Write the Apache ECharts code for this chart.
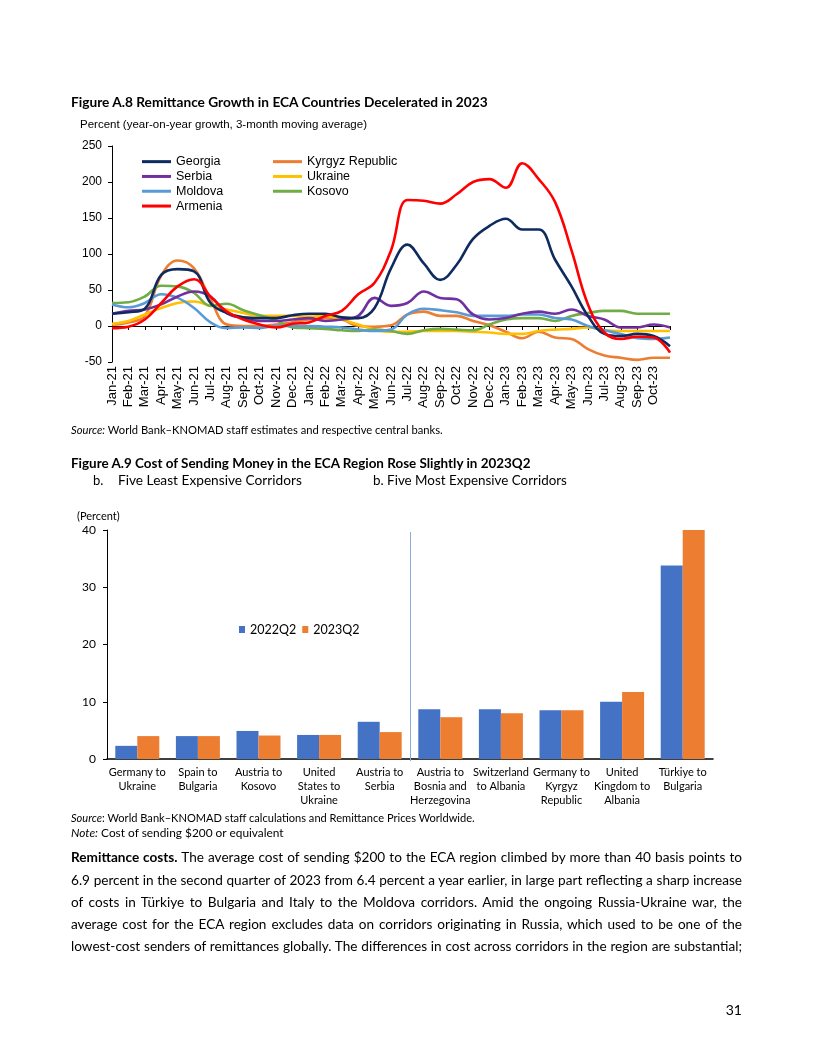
<!DOCTYPE html>
<html><head><meta charset="utf-8">
<script src="https://cdn.jsdelivr.net/npm/echarts@6/dist/echarts.min.js"></script>
<style>
html,body{margin:0;padding:0;background:#fff;}
#page{position:relative;width:816px;height:1056px;overflow:hidden;background:#fff;}
#chart{position:absolute;left:0;top:0;width:816px;height:1056px;}
.t{position:absolute;white-space:nowrap;font-family:Lato,sans-serif;color:#000;line-height:1;}
.pl{position:absolute;left:71px;width:671px;font-family:Lato,sans-serif;color:#000;line-height:1;text-align:justify;text-align-last:justify;}
</style></head>
<body>
<div id="page">
<div id="chart"></div>
<div class="t" data-w="417" data-cy="103" style="left:71px;font-size:13px;font-weight:bold;">Figure A.8 Remittance Growth in ECA Countries Decelerated in 2023</div>
<div class="t" data-w="372" data-cy="430" style="left:71px;font-size:10.5px;"><i>Source:</i> World Bank–KNOMAD staff estimates and respective central banks.</div>
<div class="t" data-w="460" data-cy="464" style="left:71px;font-size:13px;font-weight:bold;">Figure A.9 Cost of Sending Money in the ECA Region Rose Slightly in 2023Q2</div>
<div class="t" data-cy="481" style="left:93px;font-size:13px;">b.</div>
<div class="t" data-w="184" data-cy="481" style="left:118px;font-size:13px;">Five Least Expensive Corridors</div>
<div class="t" data-w="194" data-cy="481" style="left:373px;font-size:13px;">b. Five Most Expensive Corridors</div>
<div class="t" data-w="404" data-cy="818" style="left:71px;font-size:10.5px;"><i>Source</i>: World Bank–KNOMAD staff calculations and Remittance Prices Worldwide.</div>
<div class="t" data-w="213" data-cy="834" style="left:71px;font-size:10.5px;"><i>Note:</i> Cost of sending $200 or equivalent</div>
<div class="pl" data-cy="858"><b>Remittance costs.</b> The average cost of sending $200 to the ECA region climbed by more than 40 basis points to</div>
<div class="pl" data-cy="881">6.9 percent in the second quarter of 2023 from 6.4 percent a year earlier, in large part reflecting a sharp increase</div>
<div class="pl" data-cy="903">of costs in Türkiye to Bulgaria and Italy to the Moldova corridors. Amid the ongoing Russia-Ukraine war, the</div>
<div class="pl" data-cy="925">average cost for the ECA region excludes data on corridors originating in Russia, which used to be one of the</div>
<div class="pl" data-cy="947">lowest-cost senders of remittances globally. The differences in cost across corridors in the region are substantial;</div>
<div class="t" data-cy="1011" style="right:74px;font-size:14px;">31</div>
</div>
<script>
// ---------- Data: Figure A.8 ----------
const months = ['Jan-21','Feb-21','Mar-21','Apr-21','May-21','Jun-21','Jul-21','Aug-21','Sep-21','Oct-21','Nov-21','Dec-21',
  'Jan-22','Feb-22','Mar-22','Apr-22','May-22','Jun-22','Jul-22','Aug-22','Sep-22','Oct-22','Nov-22','Dec-22',
  'Jan-23','Feb-23','Mar-23','Apr-23','May-23','Jun-23','Jul-23','Aug-23','Sep-23','Oct-23','Nov-23'];
const georgia = [17,19,24,71,79,76,32,18,12,11,11,15,17,17,12,11,25,80,113,87,64,85,121,139,149,134,134,92,55,14,-11,-14,-11,-14,-28];
const serbia  = [17,21,23,30,41,48,41,18,11,7,7,9,11,7,9,14,39,28,32,48,39,37,16,9,11,17,20,17,23,14,9,-2,-2,2,-2];
const moldova = [30,26,32,44,39,25,5,-3,-2,-3,0,0,0,-1,-2,-5,-7,-5,16,24,22,19,14,14,14,16,16,11,9,0,-6,-11,-17,-18,-16];
const armenia = [-3,-1,9,32,55,65,41,20,9,2,-2,3,5,14,21,44,60,105,175,174,170,183,200,204,192,226,204,172,105,30,-9,-18,-15,-16,-37];
const kyrgyz  = [2,5,14,70,91,80,37,2,0,0,2,5,9,11,9,0,-1,1,16,20,14,14,7,1,-8,-17,-8,-16,-18,-32,-41,-44,-47,-44,-44];
const ukraine = [3,7,16,25,32,34,28,23,18,14,14,14,13,14,9,2,-5,-8,-8,-7,-7,-7,-8,-9,-11,-11,-7,-5,-4,-2,-6,-7,-7,-7,-7];
const kosovo  = [32,33,41,56,55,46,28,31,22,15,8,-2,-3,-4,-6,-7,-5,-7,-11,-6,-4,-5,-6,2,9,11,11,7,14,18,21,21,17,17,17];
const yTicksA8 = {min:-50, max:250, step:50};

// ---------- Data: Figure A.9 ----------
const corridors = ['Germany to\nUkraine','Spain to\nBulgaria','Austria to\nKosovo','United\nStates to\nUkraine','Austria to\nSerbia',
  'Austria to\nBosnia and\nHerzegovina','Switzerland\nto Albania','Germany to\nKyrgyz\nRepublic','United\nKingdom to\nAlbania','Türkiye to\nBulgaria'];
const cost2022Q2 = [2.3,4.0,4.9,4.2,6.5,8.7,8.7,8.5,10.0,33.8];
const cost2023Q2 = [4.0,4.0,4.1,4.2,4.7,7.3,8.0,8.5,11.7,40.0];
const yTicksA9 = {min:0, max:40, step:10};
const groupSplitAfter = 4; // divider after the 5th corridor (least vs most expensive)

// ---------- Text fitting ----------
document.querySelectorAll('.t').forEach(el=>{
  let fs = parseFloat(el.style.fontSize);
  if (el.dataset.w) {
    const nat = el.getBoundingClientRect().width;
    fs = fs * (+el.dataset.w) / nat;
    el.style.fontSize = fs + 'px';
  }
  el.style.top = (+el.dataset.cy - fs*0.55) + 'px';
});
(function(){
  const lines = [...document.querySelectorAll('.pl')];
  const probe = document.createElement('span');
  probe.style.cssText = 'position:absolute;visibility:hidden;white-space:nowrap;font-family:Lato,sans-serif;font-size:14px;';
  document.body.appendChild(probe);
  let maxW = 0;
  lines.forEach(l=>{ probe.innerHTML = l.innerHTML; maxW = Math.max(maxW, probe.getBoundingClientRect().width); });
  probe.remove();
  const fs = 14 * 668 / maxW;
  lines.forEach(l=>{ l.style.fontSize = fs + 'px'; l.style.top = (+l.dataset.cy - fs*0.55) + 'px'; });
})();

// ---------- Chart ----------
const chart = echarts.init(document.getElementById('chart'));
const arial = 'Liberation Sans, Arial, sans-serif';
const cal = 'Lato, sans-serif';
function lineSeries(name, data, color){
  return {name, type:'line', xAxisIndex:0, yAxisIndex:0, data, smooth:0.4, showSymbol:false, symbol:'none',
    lineStyle:{color, width:2.6}, itemStyle:{color}, emphasis:{disabled:true}};
}
const legendText = {fontFamily:arial, fontSize:12.5, lineHeight:13.3, color:'#000'};
chart.setOption({
  animation:false,
  title:[
    {text:'Percent (year-on-year growth, 3-month moving average)', left:80, top:119, padding:0,
     textStyle:{fontFamily:arial, fontSize:11.5, fontWeight:'normal', color:'#000'}},
    {text:'(Percent)', left:77, top:511, padding:0,
     textStyle:{fontFamily:cal, fontSize:11, fontWeight:'normal', color:'#000'}}
  ],
  legend:[
    {data:['Georgia','Serbia','Moldova','Armenia'], orient:'vertical', left:142, top:155, padding:0,
     icon:'rect', itemWidth:29, itemHeight:3, itemGap:1.5, itemTextGap:1, selectedMode:false, textStyle:legendText},
    {data:['Kyrgyz Republic','Ukraine','Kosovo'], orient:'vertical', left:273, top:155, padding:0,
     icon:'rect', itemWidth:29, itemHeight:3, itemGap:1.5, itemTextGap:1, selectedMode:false, textStyle:legendText},
    {data:['2022Q2','2023Q2'], orient:'horizontal', left:239, top:623, padding:0,
     icon:'rect', itemWidth:6, itemHeight:7, itemGap:6, itemTextGap:4, selectedMode:false,
     textStyle:{fontFamily:cal, fontSize:12.5, color:'#000'}}
  ],
  grid:[
    {left:112, top:146, width:558, height:216},
    {left:107, top:530, width:606, height:229}
  ],
  xAxis:[
    {type:'category', gridIndex:0, data:months, boundaryGap:false, position:'bottom',
     axisLine:{onZero:true, lineStyle:{color:'#000', width:1}},
     axisTick:{show:true, interval:0, length:4, lineStyle:{color:'#000'}},
     axisLabel:{show:false}, splitLine:{show:false}},
    {type:'category', gridIndex:0, data:months, boundaryGap:false, position:'bottom',
     axisLine:{show:false, onZero:false}, axisTick:{show:false}, splitLine:{show:false},
     axisLabel:{rotate:90, interval:(i)=> i < months.length-1, fontFamily:arial, fontSize:13, color:'#000', margin:4}},
    {type:'category', gridIndex:1, data:corridors,
     axisLine:{lineStyle:{color:'#000', width:1.5}}, axisTick:{show:false},
     axisLabel:{interval:0, fontFamily:cal, fontSize:11, lineHeight:14, color:'#000', margin:6}}
  ],
  yAxis:[
    {type:'value', gridIndex:0, min:yTicksA8.min, max:yTicksA8.max, interval:yTicksA8.step,
     axisLine:{show:true, lineStyle:{color:'#000'}}, axisTick:{show:true, length:4, lineStyle:{color:'#000'}},
     splitLine:{show:false}, axisLabel:{fontFamily:arial, fontSize:12, color:'#000', margin:10}},
    {type:'value', gridIndex:1, min:yTicksA9.min, max:yTicksA9.max, interval:yTicksA9.step,
     axisLine:{show:true, lineStyle:{color:'#000'}}, axisTick:{show:true, length:4, lineStyle:{color:'#000'}},
     splitLine:{show:false}, axisLabel:{fontFamily:cal, fontSize:12, color:'#000', margin:11}}
  ],
  series:[
    lineSeries('Kyrgyz Republic', kyrgyz, '#ed7d31'),
    lineSeries('Ukraine', ukraine, '#ffc000'),
    lineSeries('Kosovo', kosovo, '#70ad47'),
    lineSeries('Moldova', moldova, '#5b9bd5'),
    lineSeries('Serbia', serbia, '#7030a0'),
    lineSeries('Georgia', georgia, '#0e2a5e'),
    lineSeries('Armenia', armenia, '#ff0000'),
    {name:'2022Q2', type:'bar', xAxisIndex:2, yAxisIndex:1, data:cost2022Q2, barWidth:22, barGap:'0%',
     itemStyle:{color:'#4472c4'}, emphasis:{disabled:true}},
    {name:'2023Q2', type:'bar', xAxisIndex:2, yAxisIndex:1, data:cost2023Q2, barWidth:22, barGap:'0%',
     itemStyle:{color:'#ed7d31'}, emphasis:{disabled:true}}
  ]
});
// Group divider: midway between the two neighbouring category centres, spanning the value axis range.
(function(){
  const a = chart.convertToPixel({xAxisIndex:2}, corridors[groupSplitAfter]);
  const b = chart.convertToPixel({xAxisIndex:2}, corridors[groupSplitAfter+1]);
  const yTop = chart.convertToPixel({yAxisIndex:1}, yTicksA9.max);
  const yBot = chart.convertToPixel({yAxisIndex:1}, yTicksA9.min);
  const x = Math.round((a+b)/2) + 0.5;
  chart.setOption({graphic:[{type:'line', silent:true, z:5,
    shape:{x1:x, y1:yTop+2, x2:x, y2:yBot+2}, style:{stroke:'#8eaadb', lineWidth:1}}]});
})();
</script>
</body></html>
